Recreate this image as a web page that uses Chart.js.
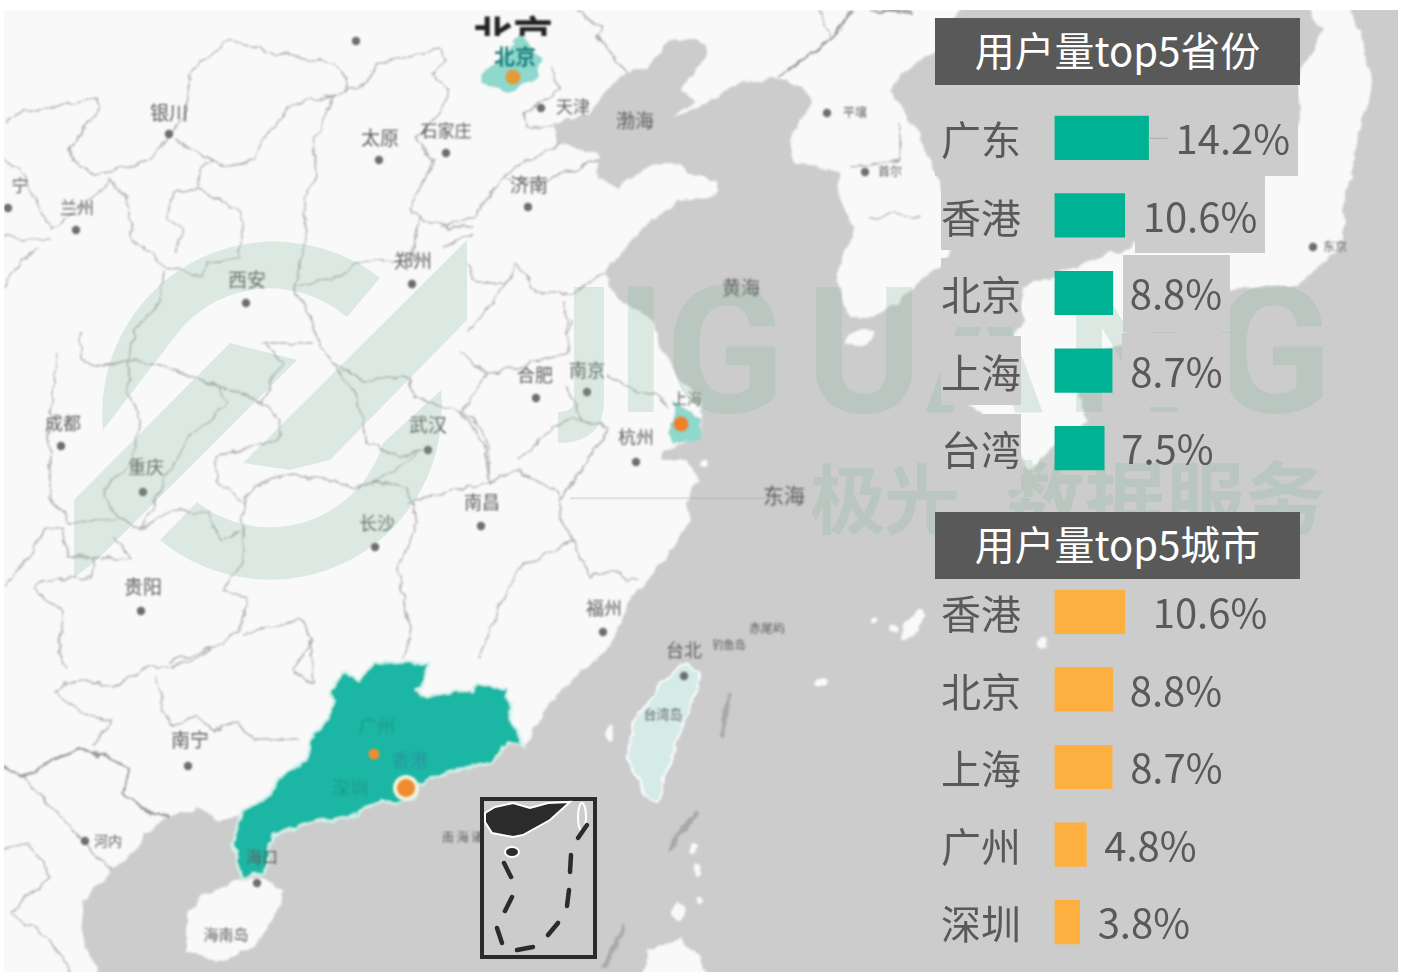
<!DOCTYPE html>
<html lang="zh">
<head>
<meta charset="utf-8">
<title>用户量top5省份与城市</title>
<script src="https://cdn.jsdelivr.net/npm/chart.js@4/dist/chart.umd.min.js"></script>
<style>
  body { margin: 0; background: #fff; width: 1402px; height: 972px; overflow: hidden; position: relative; font-family: "Noto Sans CJK SC", "Noto Sans", sans-serif; }
  #map { position: absolute; left: 0; top: 0; }
  .titulo { position: absolute; left: 935px; width: 365px; height: 67px; line-height: 63px; background: #595959; color: #fff; text-align: center; font-size: 40px; }
  canvas { position: absolute; }
</style>
</head>
<body>
<svg id="map" width="1402" height="972" viewBox="0 0 1402 972">
  <defs>
    <clipPath id="corteTopo"><rect x="460" y="10" width="110" height="26"/></clipPath>
    <clipPath id="areaMapa"><rect x="4" y="10" width="1394" height="962"/></clipPath>
    <filter id="aspero" x="-5%" y="-5%" width="110%" height="110%">
      <feTurbulence type="fractalNoise" baseFrequency="0.07" numOctaves="3" seed="4" result="ruido"/>
      <feDisplacementMap in="SourceGraphic" in2="ruido" scale="9" xChannelSelector="R" yChannelSelector="G"/>
      <feGaussianBlur stdDeviation="0.8"/>
    </filter>
  </defs>
  <rect x="4" y="10" width="1394" height="962" fill="#cccccc"/>
  <g clip-path="url(#areaMapa)">
  <g filter="url(#aspero)">
    <!-- terra -->
    <g fill="#f9f9f9">
      <polygon points="-10,0 965,0 935,50 900,75 890,90 917,130 940,186 955,240 945,262 900,300 870,318 850,317 837,287 840,263 853,227 837,193 840,173 817,167 790,160 793,133 812,100 803,87 773,78 740,83 707,103 673,118 697,100 680,90 707,57 707,43 673,37 647,67 627,72 610,87 590,113 553,123 557,143 587,150 600,157 597,177 617,188 647,167 667,163 703,177 718,182 713,197 680,200 657,217 640,230 617,257 603,273 620,300 653,320 657,340 680,380 702,397 700,437 663,450 660,460 687,460 700,480 687,500 690,520 673,547 657,567 647,583 627,603 623,620 607,650 580,673 547,707 525,747 507,743 493,763 460,770 433,777 417,787 413,800 393,805 380,800 357,815 317,822 273,833 270,853 263,873 242,878 232,843 240,817 217,820 197,807 170,817 150,830 133,853 110,870 83,903 80,933 103,985 -10,985"/>
      <polygon points="240,880 263,877 283,890 280,907 257,943 223,963 187,950 187,917 200,897"/>
      <polygon points="1300,0 1350,5 1373,80 1357,143 1343,210 1343,243 1297,287 1230,288 1190,305 1130,320 1125,345 1075,360 1085,420 1060,440 1030,470 1000,430 960,395 1000,360 1023,320 1023,287 1130,247 1263,177 1300,120 1297,77 1323,30"/>
      <polygon points="640,985 648,950 680,940 700,955 713,985"/>
      <ellipse cx="860" cy="338" rx="16" ry="7" transform="rotate(-15 860 338)"/>
      <ellipse cx="913" cy="625" rx="6" ry="18" transform="rotate(35 913 625)"/>
      <ellipse cx="875" cy="622" rx="5" ry="3"/><ellipse cx="893" cy="628" rx="5" ry="3"/>
      <ellipse cx="1042" cy="642" rx="4" ry="5"/><ellipse cx="610" cy="733" rx="4" ry="8"/>
      <ellipse cx="695" cy="850" rx="4" ry="6"/><ellipse cx="697" cy="870" rx="4" ry="6"/><ellipse cx="678" cy="913" rx="7" ry="9"/>
      <ellipse cx="700" cy="900" rx="4" ry="4"/><ellipse cx="705" cy="465" rx="5" ry="3"/><ellipse cx="820" cy="684" rx="6" ry="3"/>
    </g>
    <!-- limites das provincias -->
    <g fill="none" stroke="#adadad" stroke-width="1.5" stroke-linejoin="round">
      <polyline points="4,123 23,110 60,107 97,97 100,107 70,147 72,160 97,175 150,160 167,140 187,110 190,73 227,40 267,52 333,63 347,77 347,88 363,87 377,63 437,50 447,60 433,73 450,90 443,107 417,140 433,163 410,207 417,217 450,227 473,227"/>
      <polyline points="177,140 213,160 230,167 253,160 263,140 293,103 333,97 347,88"/>
      <polyline points="333,97 313,143 317,173 303,200 307,243 293,287 307,310 317,340 333,363 363,380 410,378 413,397 463,413 483,443 490,483"/>
      <polyline points="213,160 200,170 198,190 173,193 167,217 183,230 175,255"/>
      <polyline points="198,190 240,213 243,230 238,260 207,263 203,275 167,268 163,263 133,240 127,200 110,180 100,193 50,230 33,197 20,167 4,160"/>
      <polyline points="50,240 4,238"/><polyline points="37,247 17,267 4,287"/>
      <polyline points="293,287 337,277 357,263 413,260 417,217"/>
      <polyline points="163,270 160,300 133,333 127,387 140,427 133,460 103,490 117,517 140,530 173,510 207,513 220,540 240,530"/>
      <polyline points="80,333 80,360 103,367 130,360 177,370 220,387 227,403 187,440 163,483 140,530"/>
      <polyline points="220,387 260,402 283,363 263,343 313,343"/>
      <polyline points="260,402 282,420 277,440 217,457 217,480 243,503 243,563 223,590 247,597 240,630 217,647 167,663"/>
      <polyline points="243,633 300,620 313,640 293,670 313,683 310,640"/>
      <polyline points="243,503 253,487 293,473 353,487 377,483 407,487 417,523 397,570 410,627 405,660"/>
      <polyline points="333,363 357,397 367,443 400,457 423,450 377,483"/>
      <polyline points="407,503 467,487 493,480"/>
      <polyline points="57,353 50,423 50,497 70,522 117,520"/>
      <polyline points="63,527 43,530 33,553 4,587"/>
      <polyline points="63,527 67,557 93,557 93,577 43,580 33,590 63,613 57,650 67,670"/>
      <polyline points="113,537 133,560 93,557"/>
      <polyline points="53,690 80,680 113,687 147,667 173,667 213,650"/>
      <polyline points="53,690 80,713 110,720 93,747"/>
      <polyline points="157,677 163,713 173,727 197,717 213,730 237,723 253,740 300,740"/>
      <polyline points="23,777 67,823 110,870"/>
      <polyline points="4,850 30,843 50,877 10,913 50,940 70,972"/>
      <polyline points="460,353 487,373 463,410 487,437 490,483 517,470 560,493 560,520 573,540 520,567 503,597 480,657"/>
      <polyline points="517,460 560,423 573,417 587,423 610,427 587,463 560,500"/>
      <polyline points="573,540 590,577 617,570 627,583 640,580"/>
      <polyline points="567,387 583,420"/><polyline points="607,377 623,383 637,393 657,393 667,407"/>
      <polyline points="487,373 500,372 567,353 570,320"/>
      <polyline points="560,143 507,173 473,217 440,227"/>
      <polyline points="600,160 540,183 503,177"/>
      <polyline points="473,233 443,247"/>
      <polyline points="467,263 477,283 507,283 517,263 537,293 573,293 603,273"/>
      <polyline points="507,283 483,313 467,333"/><polyline points="563,300 567,333"/>
      <polyline points="550,67 560,90 523,113 527,127 553,127"/>
      <polyline points="577,10 603,27 597,37 627,72"/>
      <polyline points="817,10 830,37"/>
      <polyline points="900,123 900,160 850,167"/><polyline points="870,220 893,213 920,218"/>
    </g>
    <g fill="none" stroke="#999" stroke-width="2.6" stroke-linejoin="round">
      <polyline points="4,767 23,777 77,747 130,767 123,793 150,813 170,817"/>
      <polyline points="853,10 837,33 780,77"/><polyline points="870,10 913,13"/>
    </g>
    <g fill="none" stroke="#a8a8a8" stroke-width="4" stroke-linecap="round">
      <line x1="697" y1="813" x2="670" y2="847"/><line x1="623" y1="928" x2="605" y2="965"/><line x1="730" y1="695" x2="722" y2="735"/>
    </g>
    <!-- regioes destacadas -->
    <polygon fill="#d4ebe8" stroke="#fff" stroke-width="2" points="687,665 700,673 693,703 673,753 658,803 648,800 640,783 627,757 633,723 660,683"/>
    <polygon fill="#1fb7a4" stroke="#d2f5ef" stroke-width="2.5" points="242,878 232,843 243,810 267,797 280,777 307,760 310,740 330,713 332,690 343,672 360,680 373,660 400,663 430,663 417,690 427,697 460,690 473,693 477,683 507,690 513,723 525,747 507,743 493,763 460,770 433,777 417,787 413,800 393,805 380,800 357,815 317,822 273,833 270,853 263,873"/>
    <polygon fill="#8ed8ce" points="520,33 543,60 533,80 510,93 483,83 483,72 503,57"/>
    <polygon fill="#8ed8ce" points="673,400 700,417 700,440 673,443 667,433 675,417"/>
  </g>
  <g style="filter:blur(0.8px)">
    <circle cx="406" cy="788" r="13" fill="#f4f1dc"/>
    <circle cx="406" cy="788" r="9" fill="#ef8b2c"/>
    <circle cx="374" cy="754" r="5.5" fill="#ea8f2e"/>
    <circle cx="513" cy="77" r="7.5" fill="#e59a3a"/>
    <circle cx="681" cy="424" r="7.5" fill="#f07f2c"/>
    <g id="pontos" fill="#6d6d6d"></g>
    <g id="rotulos" text-anchor="middle" dominant-baseline="central" fill="#5f5f5f" transform="translate(0,-1.5)"></g>
    <text x="515" y="55" font-size="21" font-weight="700" text-anchor="middle" dominant-baseline="central" fill="#1f7f7a">北京</text>
    <text x="410" y="759" font-size="18" text-anchor="middle" dominant-baseline="central" fill="#2a94a0">香港</text>
    <text x="377" y="725" font-size="18" text-anchor="middle" dominant-baseline="central" fill="#1a9b8a">广州</text>
    <text x="350" y="787" font-size="18" text-anchor="middle" dominant-baseline="central" fill="#1a9b8a">深圳</text>
    <text x="513" y="50" font-size="40" font-weight="700" text-anchor="middle" fill="#222" clip-path="url(#corteTopo)">北京</text>
  </g>
  <!-- marca d'agua -->
  <g fill="rgb(123,183,153)" fill-opacity="0.235">
    <path d="M103,430 A172,172 0 0 1 380,278 L347,317 A118,118 0 0 0 180,330 Z"/>
    <path d="M160,540 A172,172 0 0 0 441,390 L383,443 A118,118 0 0 1 197,502 Z"/>
    <polygon points="230,343 297,360 97,560 74,578 74,500"/>
    <polygon points="467,240 467,320 330,460 290,470 243,463"/>
    <path d="M574,287 H604 V400 Q604,443 558,443 V412 Q574,412 574,400 Z"/>
    <text y="412" x="615 665 806 925 1065 1212" font-family="Roboto" font-weight="700" font-size="176">IGUANG</text>
    <text x="810" y="528" font-family="Noto Sans CJK SC" font-weight="700" font-size="76" textLength="150">极光</text>
    <text x="1005" y="528" font-family="Noto Sans CJK SC" font-weight="700" font-size="80" textLength="320">数据服务</text>
    <rect x="570" y="497" width="195" height="2.5"/>
  </g>
  </g>
  <!-- fundos cinza atras do painel -->
  <g fill="#cccccc">
    <rect x="935" y="85" width="363" height="91"/>
    <rect x="941" y="176" width="80" height="74"/>
    <rect x="1135" y="177" width="130" height="76"/>
    <rect x="1123" y="255" width="107" height="77"/>
    <rect x="941" y="258" width="80" height="69"/>
    <rect x="941" y="336" width="80" height="69"/>
    <rect x="1122" y="333" width="108" height="74"/>
    <rect x="930" y="414" width="91" height="76"/>
  </g>
  <!-- mapa pequeno -->
  <rect x="482" y="799" width="113" height="158" fill="#cccccc" stroke="#2b2b2b" stroke-width="4"/>
  <polygon fill="#2b2b2b" stroke="#fff" stroke-width="2" points="485,813 495,807 513,803 530,808 548,803 570,802 550,820 523,835 513,837 492,833 485,822"/>
  <ellipse cx="512" cy="852" rx="7" ry="5" fill="#2b2b2b" stroke="#fff" stroke-width="2"/>
  <ellipse cx="582" cy="817" rx="4" ry="14" fill="#cccccc" stroke="#fff" stroke-width="2"/>
  <g stroke="#2b2b2b" stroke-width="4.5" stroke-linecap="round">
    <line x1="587" y1="825" x2="578" y2="838"/><line x1="571" y1="855" x2="570" y2="872"/>
    <line x1="569" y1="890" x2="567" y2="906"/><line x1="558" y1="923" x2="548" y2="935"/>
    <line x1="533" y1="947" x2="517" y2="950"/><line x1="502" y1="943" x2="497" y2="928"/>
    <line x1="512" y1="897" x2="505" y2="911"/><line x1="504" y1="863" x2="511" y2="877"/>
  </g>
</svg>
<div class="titulo" style="top:18px">用户量top5省份</div>
<div class="titulo" style="top:512px">用户量top5城市</div>
<canvas id="graficoProvincias" width="464" height="388" style="left:935px;top:99px"></canvas>
<canvas id="graficoCidades" width="464" height="388" style="left:935px;top:573px"></canvas>
<script>
// dados dos graficos
const provincias = ['广东', '香港', '北京', '上海', '台湾'];
const valoresProvincias = [14.2, 10.6, 8.8, 8.7, 7.5];
const cidades = ['香港', '北京', '上海', '广州', '深圳'];
const valoresCidades = [10.6, 8.8, 8.7, 4.8, 3.8];

// distancia do rotulo ate o fim da barra
const folgaProvincias = [27, 18, 17, 18, 17];
const folgaCidades = [28, 17, 18, 18, 18];

// textos do mapa: nome, x, y, tamanho
const rotulosMapa = [
  ['银川',169,113,19],['太原',380,138,19],['石家庄',446,131,17],['兰州',77,208,17],['宁',20,186,17],
  ['西安',247,280,19],['郑州',413,261,19],['济南',529,185,19],['天津',573,107,17],['渤海',635,121,19],
  ['黄海',741,288,19],['平壤',855,113,12],['首尔',890,172,12],['东京',1335,247,12],['合肥',535,375,18],
  ['南京',587,370,18],['上海',687,399,15],['杭州',636,437,18],['武汉',428,425,19],['成都',63,423,18],
  ['重庆',146,467,18],['长沙',377,523,18],['南昌',482,502,18],['东海',784,495,21],['贵阳',143,587,19],
  ['福州',604,608,18],['台北',684,650,18],['钓鱼岛',729,645,11],['赤尾屿',767,629,12],['台湾岛',663,715,13],
  ['南宁',190,740,19],['河内',108,841,14],['海南岛',226,935,15],['海口',262,857,16],['南 海 诸 岛',470,838,12]
];
const pontosMapa = [
  [356,41],[169,134],[379,160],[446,153],[76,230],[8,208],[246,303],[412,284],[528,207],[541,108],[827,113],
  [865,172],[1313,247],[536,398],[587,392],[636,462],[428,450],[61,446],[143,492],[375,547],[481,526],
  [141,611],[603,632],[684,676],[188,766],[85,841],[257,883]
];

const NS = 'http://www.w3.org/2000/svg';
rotulosMapa.forEach(r => {
  const t = document.createElementNS(NS, 'text');
  t.setAttribute('x', r[1]);
  t.setAttribute('y', r[2]);
  t.setAttribute('font-size', r[3]);
  t.textContent = r[0];
  document.getElementById('rotulos').appendChild(t);
});
pontosMapa.forEach(p => {
  const c = document.createElementNS(NS, 'circle');
  c.setAttribute('cx', p[0]);
  c.setAttribute('cy', p[1]);
  c.setAttribute('r', 4.2);
  document.getElementById('pontos').appendChild(c);
});

// escreve o valor ao lado de cada barra
const rotuloValor = {
  id: 'rotuloValor',
  afterDatasetsDraw(chart, args, opts) {
    const ctx = chart.ctx;
    const barras = chart.getDatasetMeta(0).data;
    ctx.save();
    ctx.font = '40px "Noto Sans CJK SC", "Noto Sans", sans-serif';
    ctx.fillStyle = '#595959';
    ctx.textBaseline = 'middle';
    barras.forEach((b, i) => {
      ctx.fillText(chart.data.datasets[0].data[i] + '%', b.x + opts.folga[i], b.y + 1);
    });
    if (opts.linha) {
      ctx.strokeStyle = '#aaaaaa';
      ctx.beginPath();
      ctx.moveTo(barras[0].x, barras[0].y + 0.5);
      ctx.lineTo(barras[0].x + 19, barras[0].y + 0.5);
      ctx.stroke();
    }
    ctx.restore();
  }
};

function criarGrafico(id, labels, valores, cor, folga, linha) {
  return new Chart(document.getElementById(id), {
    type: 'bar',
    data: { labels, datasets: [{ data: valores, backgroundColor: cor, barThickness: 43.5 }] },
    options: {
      indexAxis: 'y',
      responsive: false,
      animation: false,
      layout: { padding: { left: 6 } },
      plugins: { legend: { display: false }, tooltip: { enabled: false }, rotuloValor: { folga, linha } },
      scales: {
        x: { display: false, min: 0, max: 52 },
        y: {
          // tira o recuo que o eixo reserva para os rotulos
          afterFit(scale) { scale.width = 113.5; scale.paddingTop = 0; scale.paddingBottom = 0; },
          grid: { display: false },
          border: { display: false },
          ticks: { crossAlign: 'far', labelOffset: 2, color: '#595959', font: { size: 40, family: '"Noto Sans CJK SC"' } }
        }
      }
    },
    plugins: [rotuloValor]
  });
}

criarGrafico('graficoProvincias', provincias, valoresProvincias, '#00b294', folgaProvincias, true);
criarGrafico('graficoCidades', cidades, valoresCidades, '#fdb03f', folgaCidades, false);
</script>
</body>
</html>
